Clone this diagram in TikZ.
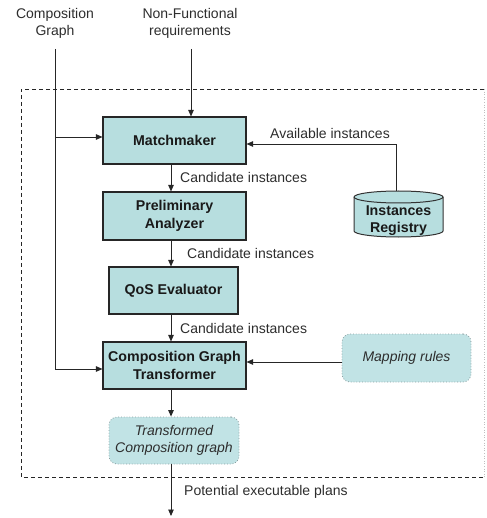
\documentclass[tikz,border=0pt]{standalone}
\usepackage{fontspec}
\setmainfont{Liberation Sans}
\usetikzlibrary{arrows.meta}
\definecolor{boxfill}{RGB}{183,222,223}
\definecolor{softfill}{RGB}{193,227,229}
\definecolor{softedge}{RGB}{140,160,162}
\definecolor{labelgray}{RGB}{45,45,45}
\tikzset{
  every node/.style={font=\fontsize{14}{17}\selectfont, text=labelgray},
  procbox/.style={draw=black!85, line width=1.1pt, fill=boxfill, align=center,
    inner sep=0pt, font=\fontsize{14.2}{17.5}\selectfont\bfseries, text=black!90},
  databox/.style={draw=softedge, dotted, line width=0.8pt, fill=softfill,
    rounded corners=8pt, align=center, inner sep=0pt,
    font=\fontsize{14}{17.5}\selectfont\itshape},
  storeshape/.style={draw=black!80, line width=1pt, fill=boxfill},
  storetext/.style={align=center, inner sep=0pt,
    font=\fontsize{14.2}{17}\selectfont\bfseries, text=black!90},
  flow/.style={draw=black!85, line width=0.9pt, -{Triangle[length=6.5pt,width=5.5pt]}},
  frame/.style={draw=black!85, line width=0.8pt, dash pattern=on 4pt off 3pt},
  flowlabel/.style={anchor=west, inner sep=0pt}
}
\begin{document}
\begin{tikzpicture}[x=1pt,y=-1pt]
\useasboundingbox (0,0) rectangle (486,518);

% dashed boundary of the composition stage
\draw[frame] (484,89) -- (21,89) -- (21,477) -- (484,477);
\draw[draw=black!25, dotted, line width=0.6pt] (484,89) -- (484,477);

% inputs
\node[align=center] (cgin) at (55,23) {Composition\\Graph};
\node[align=center] (nfin) at (190,23) {Non-Functional\\requirements};
\coordinate (cgstart) at (55,49);
\coordinate (nfstart) at (191,49);

% processing chain
\node[procbox, minimum width=143pt, minimum height=47pt] (mm) at (174.5,140.5) {Matchmaker};
\node[procbox, minimum width=143pt, minimum height=48pt] (pa) at (174.5,216) {Preliminary\\Analyzer};
\node[procbox, minimum width=129pt, minimum height=47pt] (qos) at (173.5,290.5) {QoS Evaluator};
\node[procbox, minimum width=143pt, minimum height=47pt] (cgt) at (174.5,365.5) {Composition Graph\\Transformer};
\node[databox, minimum width=130pt, minimum height=47pt] (tcg) at (174,440.5) {Transformed\\Composition graph};

% instances registry drawn as a database cylinder
\draw[storeshape] (354,197) -- (354,231) arc[start angle=180, end angle=360, x radius=44.5, y radius=-6]
  -- (443,197) arc[start angle=0, end angle=180, x radius=44.5, y radius=-6] -- cycle;
\draw[storeshape, fill=none] (354,197) arc[start angle=180, end angle=360, x radius=44.5, y radius=-6];
\node[storetext] (reg) at (398.5,220.5) {Instances\\Registry};
\coordinate (regtop) at (396,191);

\node[databox, minimum width=129pt, minimum height=48pt] (map) at (406.5,358) {Mapping rules};

% helper coordinates
\coordinate (ax) at (171,0);
\coordinate (j1) at (55,137);
\coordinate (j2) at (55,369);
\coordinate (av) at (396,144);
\coordinate (mapy) at (0,362);
\coordinate (outend) at (171,516);

% connectors
\draw[flow] (nfstart) -- (nfstart |- mm.north);
\draw[flow] (cgstart) |- (j2 -| cgt.west);
\draw[flow] (j1) -- (j1 -| mm.west);
\draw[flow] (regtop) |- (av -| mm.east);
\draw[flow] (mm.south -| ax) -- (pa.north -| ax);
\draw[flow] (pa.south -| ax) -- (qos.north -| ax);
\draw[flow] (qos.south -| ax) -- (cgt.north -| ax);
\draw[flow] (mapy -| map.west) -- (mapy -| cgt.east);
\draw[flow] (cgt.south -| ax) -- (tcg.north -| ax);
\draw[flow] (tcg.south -| ax) -- (outend);

% connector labels
\node[anchor=east, inner sep=0pt] (lav) at (390,133) {Available instances};
\node[flowlabel] (l1) at (180,177) {Candidate instances};
\node[flowlabel] (l2) at (187,253) {Candidate instances};
\node[flowlabel] (l3) at (180,328) {Candidate instances};
\node[flowlabel] (l4) at (184,492) {Potential executable plans};
\end{tikzpicture}
\end{document}
